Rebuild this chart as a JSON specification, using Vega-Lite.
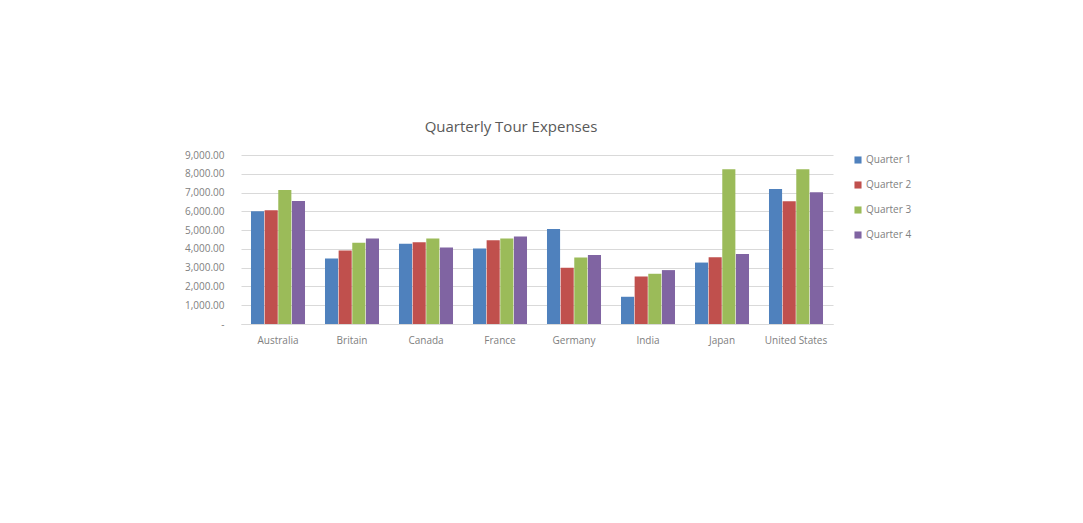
{
  "$schema": "https://vega.github.io/schema/vega-lite/v6.json",
  "autosize": {"type": "none"},
  "width": 592,
  "height": 169,
  "padding": {"left": 241, "top": 155, "right": 250, "bottom": 199},
  "background": "white",
  "title": {
    "text": "Quarterly Tour Expenses",
    "font": "Open Sans",
    "fontSize": 15,
    "fontWeight": "normal",
    "color": "#595959",
    "anchor": "middle",
    "frame": "group",
    "dx": -26,
    "offset": 15
  },
  "data": {
    "values": [
      {"country": "Australia", "quarter": "Quarter 1", "value": 6010},
      {"country": "Australia", "quarter": "Quarter 2", "value": 6060},
      {"country": "Australia", "quarter": "Quarter 3", "value": 7130},
      {"country": "Australia", "quarter": "Quarter 4", "value": 6545},
      {"country": "Britain", "quarter": "Quarter 1", "value": 3490},
      {"country": "Britain", "quarter": "Quarter 2", "value": 3915},
      {"country": "Britain", "quarter": "Quarter 3", "value": 4325},
      {"country": "Britain", "quarter": "Quarter 4", "value": 4555},
      {"country": "Canada", "quarter": "Quarter 1", "value": 4275},
      {"country": "Canada", "quarter": "Quarter 2", "value": 4360},
      {"country": "Canada", "quarter": "Quarter 3", "value": 4555},
      {"country": "Canada", "quarter": "Quarter 4", "value": 4075},
      {"country": "France", "quarter": "Quarter 1", "value": 4025},
      {"country": "France", "quarter": "Quarter 2", "value": 4465},
      {"country": "France", "quarter": "Quarter 3", "value": 4555},
      {"country": "France", "quarter": "Quarter 4", "value": 4660},
      {"country": "Germany", "quarter": "Quarter 1", "value": 5055},
      {"country": "Germany", "quarter": "Quarter 2", "value": 2995},
      {"country": "Germany", "quarter": "Quarter 3", "value": 3545},
      {"country": "Germany", "quarter": "Quarter 4", "value": 3670},
      {"country": "India", "quarter": "Quarter 1", "value": 1450},
      {"country": "India", "quarter": "Quarter 2", "value": 2530},
      {"country": "India", "quarter": "Quarter 3", "value": 2675},
      {"country": "India", "quarter": "Quarter 4", "value": 2870},
      {"country": "Japan", "quarter": "Quarter 1", "value": 3271.50},
      {"country": "Japan", "quarter": "Quarter 2", "value": 3556.14},
      {"country": "Japan", "quarter": "Quarter 3", "value": 8240.35},
      {"country": "Japan", "quarter": "Quarter 4", "value": 3721.69},
      {"country": "United States", "quarter": "Quarter 1", "value": 7195.06},
      {"country": "United States", "quarter": "Quarter 2", "value": 6542.76},
      {"country": "United States", "quarter": "Quarter 3", "value": 8240.36},
      {"country": "United States", "quarter": "Quarter 4", "value": 7018.91}
    ]
  },
  "mark": {"type": "bar"},
  "encoding": {
    "x": {
      "field": "country",
      "type": "nominal",
      "sort": null,
      "scale": {"paddingInner": 0.27, "paddingOuter": 0.135},
      "axis": {
        "title": null,
        "labelAngle": 0,
        "labelFont": "Open Sans",
        "labelFontSize": 10,
        "labelColor": "#808080",
        "labelPadding": 11,
        "ticks": false,
        "domainColor": "#d9d9d9",
        "grid": false
      }
    },
    "xOffset": {
      "field": "quarter",
      "type": "nominal",
      "scale": {"paddingInner": 0.04}
    },
    "y": {
      "field": "value",
      "type": "quantitative",
      "scale": {"domain": [0, 9000], "nice": false},
      "axis": {
        "title": null,
        "values": [0, 1000, 2000, 3000, 4000, 5000, 6000, 7000, 8000, 9000],
        "labelExpr": "datum.value == 0 ? '-' : format(datum.value, ',.2f')",
        "labelFont": "Open Sans",
        "labelFontSize": 10,
        "labelColor": "#808080",
        "labelPadding": 17,
        "ticks": false,
        "domain": false,
        "gridColor": "#d9d9d9",
        "gridWidth": 1
      }
    },
    "color": {
      "field": "quarter",
      "type": "nominal",
      "scale": {
        "domain": ["Quarter 1", "Quarter 2", "Quarter 3", "Quarter 4"],
        "range": ["#4F81BD", "#C0504D", "#9BBB59", "#8064A2"]
      },
      "legend": {
        "title": null,
        "orient": "right",
        "offset": 20,
        "symbolType": "square",
        "symbolSize": 50,
        "symbolStrokeWidth": 0,
        "labelFont": "Open Sans",
        "labelFontSize": 10,
        "labelColor": "#808080",
        "rowPadding": 15,
        "labelOffset": 3
      }
    }
  },
  "config": {
    "view": {"stroke": null}
  }
}
